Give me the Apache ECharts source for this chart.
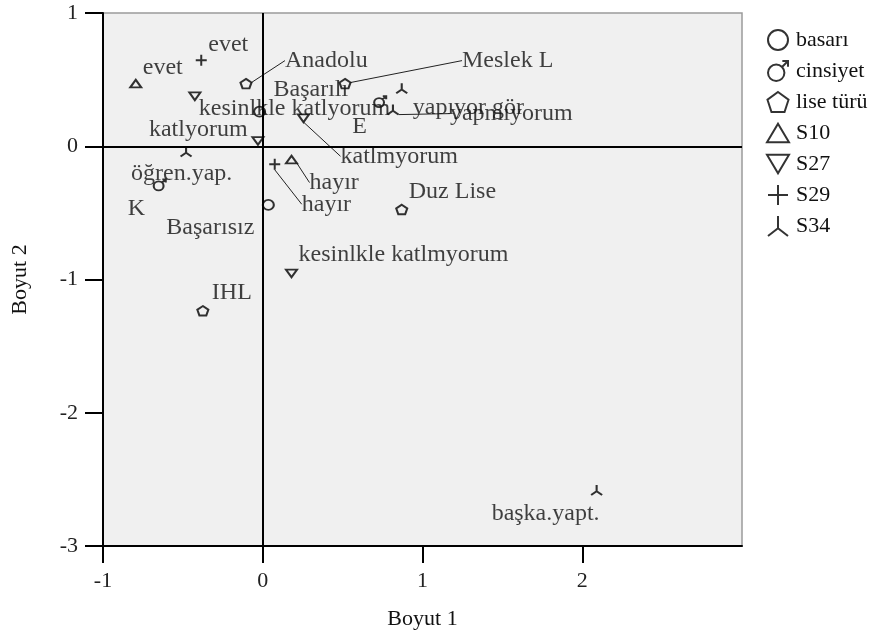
<!DOCTYPE html>
<html>
<head>
<meta charset="utf-8">
<script src="https://cdn.jsdelivr.net/npm/echarts@6/dist/echarts.min.js"></script>
<style>html,body{margin:0;padding:0;background:#fff}#c{width:886px;height:635px}</style>
</head>
<body>
<div id="c"></div>
<script>
// ---- data ----
const seriesNames = ['basarı', 'cinsiyet', 'lise türü', 'S10', 'S27', 'S29', 'S34'];

const basariLabels = ['Başarılı', 'Başarısız'];
const basariDim1 = [-0.02, 0.035];
const basariDim2 = [0.26, -0.44];

const cinsiyetLabels = ['E', 'K'];
const cinsiyetDim1 = [0.735, -0.645];
const cinsiyetDim2 = [0.335, -0.29];

const liseLabels = ['Anadolu', 'Meslek L', 'Duz Lise', 'IHL'];
const liseDim1 = [-0.105, 0.515, 0.87, -0.375];
const liseDim2 = [0.47, 0.47, -0.475, -1.235];

const s10Labels = ['evet', 'hayır'];
const s10Dim1 = [-0.795, 0.18];
const s10Dim2 = [0.47, -0.10];

const s27Labels = ['kesinlkle katlyorum', 'katlyorum', 'katlmyorum', 'kesinlkle katlmyorum'];
const s27Dim1 = [-0.425, -0.03, 0.255, 0.18];
const s27Dim2 = [0.375, 0.04, 0.21, -0.955];

const s29Labels = ['evet', 'hayır'];
const s29Dim1 = [-0.385, 0.075];
const s29Dim2 = [0.645, -0.135];

const s34Labels = ['öğren.yap.', 'yapıyor gör', 'yapmıyorum', 'başka.yapt.'];
const s34Dim1 = [-0.48, 0.87, 0.815, 2.09];
const s34Dim2 = [-0.04, 0.435, 0.275, -2.58];

const xTicks = [-1, 0, 1, 2];
const yTicks = [-3, -2, -1, 0, 1];
const xName = 'Boyut 1';
const yName = 'Boyut 2';

// ---- styling (label placement offsets in px relative to the marker, leader flag) ----
const labelPlacement = {
  'basarı':   [[14, -22], [-102, 23]],
  'cinsiyet': [[-28, 25], [-32, 24]],
  'lise türü':[[39, -23, 1], [117, -23, 1], [7, -18], [9, -18]],
  'S10':      [[7, -16], [18, 23, 1]],
  'S27':      [[4, 12], [-109, -11], [37, 38, 1], [7, -19]],
  'S29':      [[7, -16], [27, 40, 1]],
  'S34':      [[-55, 22], [11, 19], [57, 4, 1], [-105, 24]]
};
const symbols = {
  'basarı': 'circle',
  'cinsiyet': 'path://M1,12 A8,8 0 1,0 17,12 A8,8 0 1,0 1,12 Z M14.7,6.3 L20.5,0.5 M15,0.5 L20.5,0.5 L20.5,6',
  'lise türü': 'path://M10,0 L20,7.3 L16.2,19 L3.8,19 L0,7.3 Z',
  'S10': 'path://M10,0 L20,17 L0,17 Z',
  'S27': 'path://M0,0 L20,0 L10,17 Z',
  'S29': 'path://M0,10 L20,10 M10,0 L10,20',
  'S34': 'path://M10,0 L10,11 M10,11 L1,18 M10,11 L19,18'
};
const markerSizes = {
  'basarı': [11, 10], 'cinsiyet': [12, 11], 'lise türü': [11, 10],
  'S10': [11, 9], 'S27': [11, 9], 'S29': [11, 11], 'S34': [11, 10]
};

const groups = [
  [basariLabels, basariDim1, basariDim2],
  [cinsiyetLabels, cinsiyetDim1, cinsiyetDim2],
  [liseLabels, liseDim1, liseDim2],
  [s10Labels, s10Dim1, s10Dim2],
  [s27Labels, s27Dim1, s27Dim2],
  [s29Labels, s29Dim1, s29Dim2],
  [s34Labels, s34Dim1, s34Dim2]
];

const FONT = 'Liberation Serif';

const series = seriesNames.map(function (sn, si) {
  const g = groups[si];
  const data = g[0].map(function (lab, i) {
    const pl = labelPlacement[sn][i];
    return {
      name: lab,
      value: [g[1][i], g[2][i]],
      labelLine: { show: !!pl[2] }
    };
  });
  const s = {
    type: 'scatter',
    name: sn,
    symbol: symbols[sn],
    symbolSize: markerSizes[sn],
    symbolKeepAspect: true,
    itemStyle: { color: 'rgba(0,0,0,0)', borderColor: '#000', borderWidth: 2 },
    emphasis: { disabled: true },
    label: {
      show: true, formatter: '{b}', position: 'right',
      color: '#111', fontFamily: FONT, fontSize: 24
    },
    labelLine: { show: false, lineStyle: { color: '#222', width: 1 } },
    labelLayout: function (p) {
      const pl = labelPlacement[sn][p.dataIndex];
      const cx = p.rect.x + p.rect.width / 2;
      const cy = p.rect.y + p.rect.height / 2;
      return { x: cx + pl[0], y: cy + pl[1], align: 'left', verticalAlign: 'middle' };
    },
    data: data,
    z: 3
  };
  if (si === 0) {
    s.markLine = {
      silent: true, symbol: 'none', label: { show: false },
      lineStyle: { color: '#000', width: 2, type: 'solid' },
      emphasis: { disabled: true },
      data: [{ xAxis: 0 }, { yAxis: 0 }]
    };
  }
  return s;
});

const chart = echarts.init(document.getElementById('c'), null, { renderer: 'canvas' });
chart.setOption({
  animation: false,
  backgroundColor: '#fff',
  textStyle: { fontFamily: FONT },
  grid: {
    left: 103, top: 13, right: 144, bottom: 88,
    show: true, backgroundColor: '#f0f0f0', borderColor: '#9a9a9a', borderWidth: 1.5
  },
  xAxis: {
    type: 'value', min: -1, max: 3, interval: 1,
    name: xName, nameLocation: 'middle', nameGap: 62,
    nameTextStyle: { fontFamily: FONT, fontSize: 22, color: '#111' },
    axisLine: { onZero: false, lineStyle: { color: '#000', width: 2 } },
    axisTick: { length: 17, lineStyle: { color: '#000', width: 2 }, customValues: xTicks },
    axisLabel: { margin: 24, fontFamily: FONT, fontSize: 22, color: '#222', customValues: xTicks },
    splitLine: { show: false }
  },
  yAxis: {
    type: 'value', min: -3, max: 1, interval: 1,
    name: yName, nameLocation: 'middle', nameGap: 72, nameRotate: 90,
    nameTextStyle: { fontFamily: FONT, fontSize: 22, color: '#111' },
    axisLine: { onZero: false, lineStyle: { color: '#000', width: 2 } },
    axisTick: { length: 18, lineStyle: { color: '#000', width: 2 }, customValues: yTicks },
    axisLabel: { margin: 25, fontFamily: FONT, fontSize: 22, color: '#222', customValues: yTicks },
    splitLine: { show: false }
  },
  legend: {
    orient: 'vertical', left: 766, top: 29, padding: 0,
    itemWidth: 22, itemHeight: 20, itemGap: 9,
    selectedMode: false,
    textStyle: { fontFamily: FONT, fontSize: 22, color: '#111', padding: [0, 0, 0, 2] },
    data: seriesNames
  },
  series: series
});
</script>
</body>
</html>
